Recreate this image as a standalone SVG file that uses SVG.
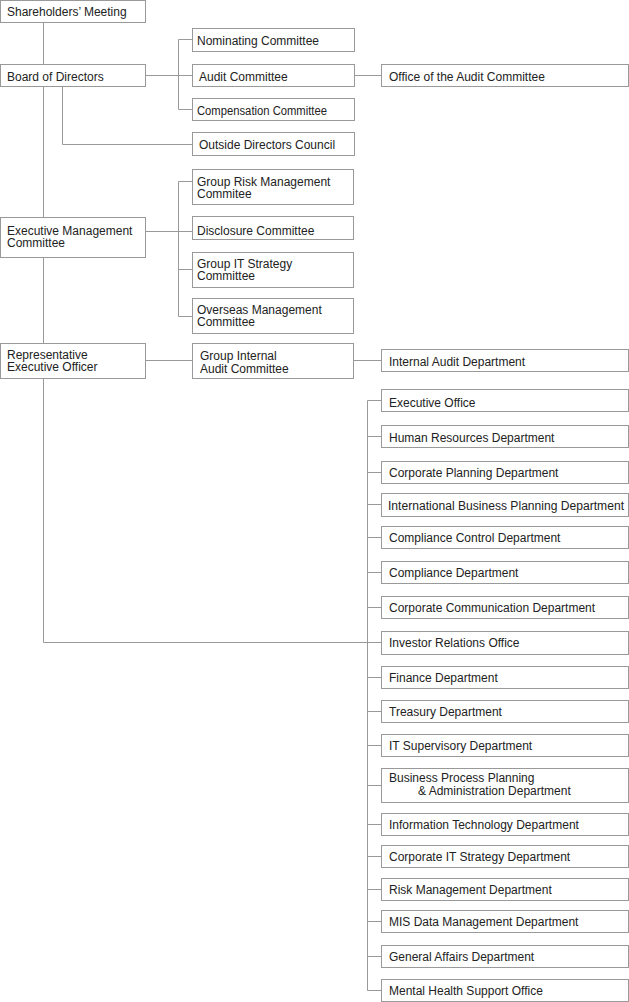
<svg xmlns="http://www.w3.org/2000/svg" width="629" height="1002" viewBox="0 0 629 1002">
<style>
rect{fill:#fff;stroke:#999;stroke-width:1}
line,polyline{stroke:#999;stroke-width:1;fill:none}
text{font-family:"Liberation Sans",Arial,sans-serif;font-size:12px;fill:#222}
</style>
<rect x="0" y="0" width="629" height="1002" style="stroke:none"/>
<g id="connectors">
<line x1="43.5" y1="22" x2="43.5" y2="642.5"/>
<line x1="43.5" y1="642.5" x2="381" y2="642.5"/>
<line x1="145" y1="75.5" x2="192" y2="75.5"/>
<polyline points="192,39.5 178.5,39.5 178.5,109.5 192,109.5"/>
<line x1="354" y1="75.5" x2="381" y2="75.5"/>
<polyline points="62.5,86 62.5,144.5 192,144.5"/>
<line x1="145" y1="231.5" x2="192" y2="231.5"/>
<polyline points="192,181.5 178.5,181.5 178.5,316.5 192,316.5"/>
<line x1="178.5" y1="269.5" x2="192" y2="269.5"/>
<line x1="145" y1="360.5" x2="192" y2="360.5"/>
<line x1="354" y1="360.5" x2="381" y2="360.5"/>
<line x1="367.5" y1="400.5" x2="367.5" y2="990.5"/>
<line x1="367.5" y1="400.5" x2="381" y2="400.5"/>
<line x1="367.5" y1="436.5" x2="381" y2="436.5"/>
<line x1="367.5" y1="472.5" x2="381" y2="472.5"/>
<line x1="367.5" y1="504.5" x2="381" y2="504.5"/>
<line x1="367.5" y1="537.5" x2="381" y2="537.5"/>
<line x1="367.5" y1="572.5" x2="381" y2="572.5"/>
<line x1="367.5" y1="607.5" x2="381" y2="607.5"/>
<line x1="367.5" y1="677.5" x2="381" y2="677.5"/>
<line x1="367.5" y1="711.5" x2="381" y2="711.5"/>
<line x1="367.5" y1="745.5" x2="381" y2="745.5"/>
<line x1="367.5" y1="785.5" x2="381" y2="785.5"/>
<line x1="367.5" y1="824.5" x2="381" y2="824.5"/>
<line x1="367.5" y1="856.5" x2="381" y2="856.5"/>
<line x1="367.5" y1="889.5" x2="381" y2="889.5"/>
<line x1="367.5" y1="921.5" x2="381" y2="921.5"/>
<line x1="367.5" y1="956.5" x2="381" y2="956.5"/>
<line x1="367.5" y1="990.5" x2="381" y2="990.5"/>
</g>
<g id="n1"><rect x="0.5" y="0.5" width="145" height="22"/><text x="7" y="16">Shareholders’ Meeting</text></g>
<g id="n2"><rect x="0.5" y="64.5" width="145" height="22"/><text x="7" y="81">Board of Directors</text></g>
<g id="n3"><rect x="192.5" y="28.5" width="162" height="23"/><text x="197" y="45">Nominating Committee</text></g>
<g id="n4"><rect x="192.5" y="64.5" width="162" height="22"/><text x="199" y="81">Audit Committee</text></g>
<g id="n5"><rect x="192.5" y="98.5" width="162" height="22"/><text x="197" y="115" textLength="130" lengthAdjust="spacingAndGlyphs">Compensation Committee</text></g>
<g id="n6"><rect x="192.5" y="132.5" width="162" height="23"/><text x="199" y="149">Outside Directors Council</text></g>
<g id="n7"><rect x="381.5" y="64.5" width="247" height="22"/><text x="389" y="81">Office of the Audit Committee</text></g>
<g id="n8"><rect x="0.5" y="217.5" width="145" height="40"/><text x="7" y="235">Executive Management</text><text x="7" y="247">Committee</text></g>
<g id="n9"><rect x="192.5" y="169.5" width="161" height="35"/><text x="197" y="186">Group Risk Management</text><text x="197" y="198">Commitee</text></g>
<g id="n10"><rect x="192.5" y="216.5" width="161" height="23"/><text x="197" y="235">Disclosure Committee</text></g>
<g id="n11"><rect x="192.5" y="252.5" width="161" height="35"/><text x="197" y="268">Group IT Strategy</text><text x="197" y="280">Committee</text></g>
<g id="n12"><rect x="192.5" y="298.5" width="161" height="35"/><text x="197" y="314">Overseas Management</text><text x="197" y="326">Committee</text></g>
<g id="n13"><rect x="0.5" y="343.5" width="145" height="35"/><text x="7" y="359">Representative</text><text x="7" y="371">Executive Officer</text></g>
<g id="n14"><rect x="192.5" y="343.5" width="161" height="35"/><text x="200" y="360">Group Internal</text><text x="200" y="373">Audit Committee</text></g>
<g id="n15"><rect x="381.5" y="349.5" width="247" height="22"/><text x="389" y="366">Internal Audit Department</text></g>
<g id="n16"><rect x="381.5" y="389.5" width="247" height="22"/><text x="389" y="407">Executive Office</text></g>
<g id="n17"><rect x="381.5" y="425.5" width="247" height="22"/><text x="389" y="442">Human Resources Department</text></g>
<g id="n18"><rect x="381.5" y="461.5" width="247" height="22"/><text x="389" y="477">Corporate Planning Department</text></g>
<g id="n19"><rect x="381.5" y="493.5" width="247" height="23"/><text x="388" y="510" textLength="236" lengthAdjust="spacingAndGlyphs">International Business Planning Department</text></g>
<g id="n20"><rect x="381.5" y="526.5" width="247" height="22"/><text x="389" y="542">Compliance Control Department</text></g>
<g id="n21"><rect x="381.5" y="561.5" width="247" height="22"/><text x="389" y="577">Compliance Department</text></g>
<g id="n22"><rect x="381.5" y="596.5" width="247" height="22"/><text x="389" y="612">Corporate Communication Department</text></g>
<g id="n23"><rect x="381.5" y="631.5" width="247" height="23"/><text x="389" y="647">Investor Relations Office</text></g>
<g id="n24"><rect x="381.5" y="666.5" width="247" height="22"/><text x="389" y="682">Finance Department</text></g>
<g id="n25"><rect x="381.5" y="700.5" width="247" height="22"/><text x="389" y="716">Treasury Department</text></g>
<g id="n26"><rect x="381.5" y="734.5" width="247" height="22"/><text x="389" y="750">IT Supervisory Department</text></g>
<g id="n27"><rect x="381.5" y="768.5" width="247" height="34"/><text x="389" y="782">Business Process Planning</text><text x="418" y="795">&amp; Administration Department</text></g>
<g id="n28"><rect x="381.5" y="813.5" width="247" height="22"/><text x="389" y="829">Information Technology Department</text></g>
<g id="n29"><rect x="381.5" y="845.5" width="247" height="22"/><text x="389" y="861">Corporate IT Strategy Department</text></g>
<g id="n30"><rect x="381.5" y="878.5" width="247" height="22"/><text x="389" y="894">Risk Management Department</text></g>
<g id="n31"><rect x="381.5" y="910.5" width="247" height="22"/><text x="389" y="926">MIS Data Management Department</text></g>
<g id="n32"><rect x="381.5" y="945.5" width="247" height="22"/><text x="389" y="961">General Affairs Department</text></g>
<g id="n33"><rect x="381.5" y="979.5" width="247" height="22"/><text x="389" y="995">Mental Health Support Office</text></g>
</svg>
